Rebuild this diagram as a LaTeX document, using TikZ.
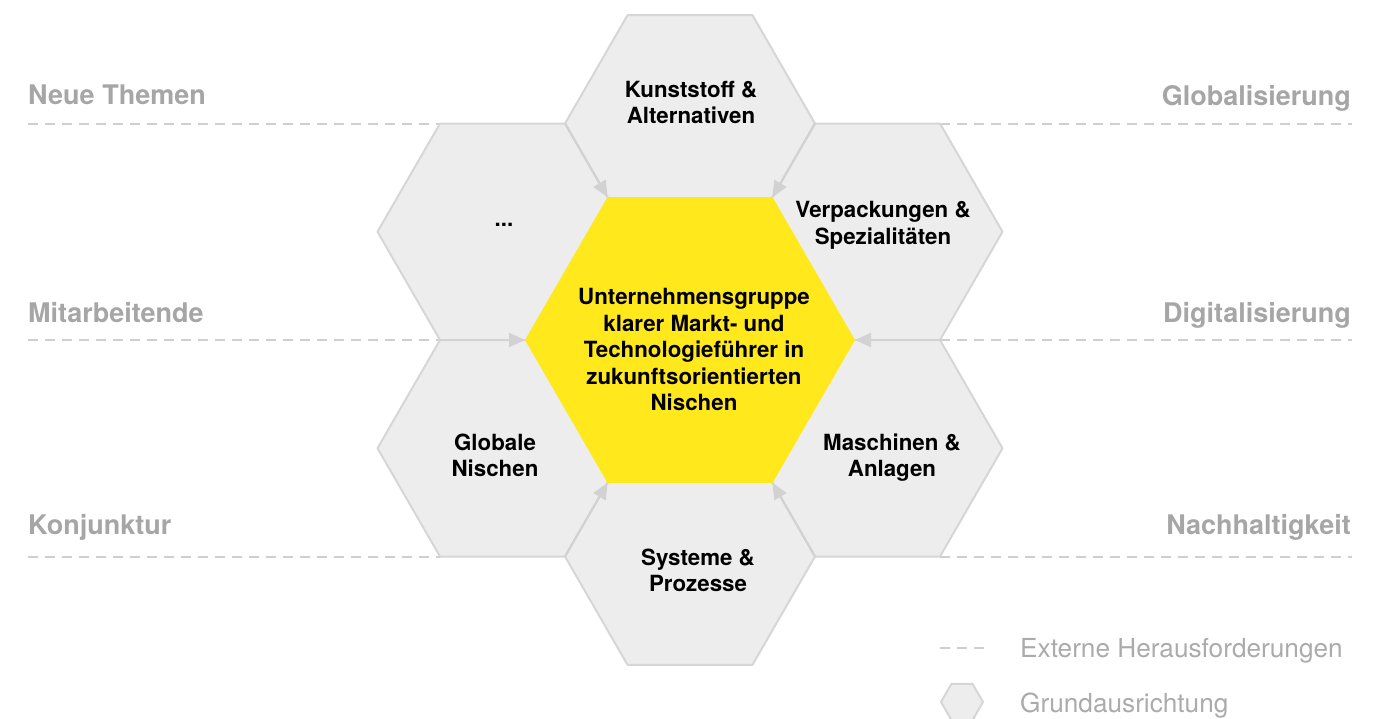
\documentclass[tikz,border=0pt]{standalone}
\usepackage{fontspec}
\setmainfont{TeX Gyre Heros}
\usetikzlibrary{arrows.meta,calc}
\definecolor{hexfill}{HTML}{EDEDED}
\definecolor{hexline}{HTML}{D6D6D6}
\definecolor{coreyellow}{HTML}{FFE81C}
\definecolor{arrowgray}{HTML}{D2D2D2}
\definecolor{dashgray}{HTML}{CFCFCF}
\definecolor{labelgray}{HTML}{A6A6A6}
\definecolor{legendgray}{HTML}{ABABAB}
\newcommand\hexshape[3]{\path[#3] (#1) ++(0:#2) -- ++(120:#2) -- ++(180:#2) -- ++(240:#2) -- ++(300:#2) -- ++(0:#2) -- cycle;}
\begin{document}
\begin{tikzpicture}[x=1pt,y=-1pt,
  outerhex/.style={fill=hexfill,draw=hexline,line width=2pt,line join=round},
  corehex/.style={fill=coreyellow},
  extline/.style={draw=dashgray,line width=2pt,dash pattern=on 10pt off 7pt},
  inarrow/.style={draw=arrowgray,line width=2pt,-{Triangle[length=16pt,width=14pt]}},
  hextext/.style={align=center,inner sep=0pt,text depth=0pt,font=\bfseries\fontsize{22.3}{26.5}\selectfont},
  sidelabel/.style={inner sep=0pt,text=labelgray,font=\bfseries\fontsize{27}{32}\selectfont},
  legendtext/.style={inner sep=0pt,anchor=base west,text=legendgray,font=\fontsize{26.2}{31}\selectfont}]
\useasboundingbox (0,0) rectangle (1392,718);

% hexagon centres
\coordinate (C) at (690,340);
\coordinate (T) at (690,123.5);
\coordinate (UL) at (502.5,231.75);
\coordinate (UR) at (877.5,231.75);
\coordinate (LL) at (502.5,448.25);
\coordinate (LR) at (877.5,448.25);
\coordinate (B) at (690,556.5);

% vertices used by connectors and lines
\coordinate (ULtl) at (440,123.5);
\coordinate (ULtr) at (565,123.5);
\coordinate (URtl) at (815,123.5);
\coordinate (URtr) at (940,123.5);
\coordinate (ULbl) at (440,340);
\coordinate (URbr) at (940,340);
\coordinate (LLbl) at (440,556.5);
\coordinate (LLbr) at (565,556.5);
\coordinate (LRbl) at (815,556.5);
\coordinate (LRbr) at (940,556.5);
\coordinate (Ctl) at (607.5,197.11);
\coordinate (Ctr) at (772.5,197.11);
\coordinate (Cl) at (525,340);
\coordinate (Cr) at (855,340);
\coordinate (Cbl) at (607.5,482.89);
\coordinate (Cbr) at (772.5,482.89);

% dashed external lines
\coordinate (L1) at (28,123.5);
\coordinate (L2) at (28,340);
\coordinate (L3) at (28,556.5);
\coordinate (R1) at (1352,123.5);
\coordinate (R2) at (1352,340);
\coordinate (R3) at (1352,556.5);
\draw[extline] (L1) -- (ULtl);
\draw[extline] (L2) -- (ULbl);
\draw[extline] (L3) -- (LLbl);
\draw[extline] (URtr) -- (R1);
\draw[extline] (URbr) -- (R2);
\draw[extline] (LRbr) -- (R3);

% outer hexagons
\hexshape{T}{125}{outerhex}
\hexshape{UL}{125}{outerhex}
\hexshape{UR}{125}{outerhex}
\hexshape{LL}{125}{outerhex}
\hexshape{LR}{125}{outerhex}
\hexshape{B}{125}{outerhex}

% core hexagon
\hexshape{C}{165}{corehex}

% arrows
\draw[inarrow] (ULtr) -- (Ctl);
\draw[inarrow] (URtl) -- (Ctr);
\draw[inarrow] (ULbl) -- (Cl);
\draw[inarrow] (URbr) -- (Cr);
\draw[inarrow] (LLbr) -- (Cbl);
\draw[inarrow] (LRbl) -- (Cbr);

% hexagon texts
\node[hextext] (tT) at (691,102.5) {Kunststoff \&\\Alternativen};
\node[hextext] (tUL) at (504,225) {...};
\node[hextext] (tUR) at (883,223) {Verpackungen \&\\Spezialitäten};
\node[hextext] (tLL) at (495,455) {Globale\\Nischen};
\node[hextext] (tLR) at (892,455) {Maschinen \&\\Anlagen};
\node[hextext] (tB) at (698,570) {Systeme \&\\Prozesse};
\node[hextext] (tC) at (694,349.5) {Unternehmensgruppe\\klarer Markt- und\\Technologieführer in\\zukunftsorientierten\\Nischen};

% side labels
\node[sidelabel,anchor=base west] (n1) at (28,104) {Neue Themen};
\node[sidelabel,anchor=base west] (n2) at (28,322) {Mitarbeitende};
\node[sidelabel,anchor=base west] (n3) at (28,534) {Konjunktur};
\node[sidelabel,anchor=base east] (m1) at (1351,105) {Globalisierung};
\node[sidelabel,anchor=base east] (m2) at (1351,322) {Digitalisierung};
\node[sidelabel,anchor=base east] (m3) at (1351,534) {Nachhaltigkeit};

% legend
\coordinate (LgA) at (940,648);
\coordinate (LgB) at (984,648);
\draw[extline] (LgA) -- (LgB);
\coordinate (LgH) at (962,702);
\hexshape{LgH}{21}{outerhex}
\node[legendtext] (lg1) at (1020,657) {Externe Herausforderungen};
\node[legendtext] (lg2) at (1020,712) {Grundausrichtung};
\end{tikzpicture}
\end{document}
